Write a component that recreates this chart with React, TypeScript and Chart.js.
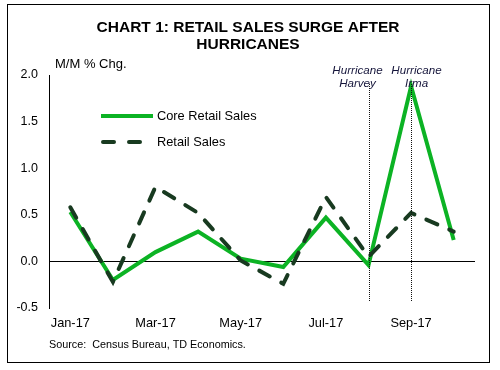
import React, { useEffect, useRef } from "react";
import { Chart, registerables } from "chart.js";

Chart.register(...registerables);

const months = ["Jan-17", "Feb-17", "Mar-17", "Apr-17", "May-17", "Jun-17", "Jul-17", "Aug-17", "Sep-17", "Oct-17"];
const coreRetailSales = [0.53, -0.2, 0.1, 0.32, 0.03, -0.06, 0.47, -0.04, 1.88, 0.23];
const retailSales = [0.58, -0.22, 0.8, 0.52, 0.01, -0.24, 0.69, 0.05, 0.52, 0.32];
const yTicks = [-0.5, 0.0, 0.5, 1.0, 1.5, 2.0];
const titleLines = ["CHART 1: RETAIL SALES SURGE AFTER", "HURRICANES"];
const yAxisTitle = "M/M % Chg.";
const sourceText = "Source:  Census Bureau, TD Economics.";
const hurricanes = [
  { month: "Aug-17", lines: ["Hurricane", "Harvey"], labelDx: -12 },
  { month: "Sep-17", lines: ["Hurricane", "Irma"], labelDx: 5 },
];

const GREEN = "#0cb324";
const DARK = "#183a20";
const FONT = "'Liberation Sans', Arial, sans-serif";

const decorPlugin = {
  id: "decor",
  beforeDraw(chart: any) {
    const ctx = chart.ctx;
    ctx.save();
    ctx.fillStyle = "#fff";
    ctx.fillRect(0, 0, chart.width, chart.height);
    ctx.strokeStyle = "#000";
    ctx.lineWidth = 1;
    ctx.strokeRect(7.5, 4.5, 482, 358);
    ctx.restore();
  },
  afterDatasetsDraw(chart: any) {
    const ctx = chart.ctx;
    const x = chart.scales.x;
    const area = chart.chartArea;
    ctx.save();
    hurricanes.forEach((h) => {
      const px = Math.round(x.getPixelForValue(months.indexOf(h.month))) + 0.5;
      ctx.strokeStyle = "#111";
      ctx.lineWidth = 1;
      ctx.setLineDash([1, 1]);
      ctx.beginPath();
      ctx.moveTo(px, area.top + 9);
      ctx.lineTo(px, area.bottom - 6);
      ctx.stroke();
      ctx.setLineDash([]);
      ctx.fillStyle = "#14143a";
      ctx.font = `italic 11.6px ${FONT}`;
      ctx.textAlign = "center";
      ctx.textBaseline = "middle";
      h.lines.forEach((t, i) => ctx.fillText(t, px + h.labelDx, 71 + i * 13));
    });
    ctx.restore();
  },
  afterDraw(chart: any) {
    const ctx = chart.ctx;
    ctx.save();
    ctx.fillStyle = "#000";
    ctx.textBaseline = "middle";
    ctx.font = `bold 15.5px ${FONT}`;
    ctx.textAlign = "center";
    titleLines.forEach((t, i) => ctx.fillText(t, 248, 28 + i * 17));
    ctx.font = `13px ${FONT}`;
    ctx.textAlign = "left";
    ctx.fillText(yAxisTitle, 55, 64);
    ctx.font = `10.8px ${FONT}`;
    ctx.fillText(sourceText, 49, 345);
    const items = [
      { label: "Core Retail Sales", color: GREEN, dash: [] as number[], y: 116 },
      { label: "Retail Sales", color: DARK, dash: [11, 15], y: 142 },
    ];
    items.forEach((it) => {
      ctx.strokeStyle = it.color;
      ctx.lineWidth = 4;
      ctx.lineCap = it.dash.length ? "round" : "butt";
      ctx.setLineDash(it.dash);
      ctx.beginPath();
      ctx.moveTo(it.dash.length ? 103 : 101, it.y);
      ctx.lineTo(153, it.y);
      ctx.stroke();
      ctx.setLineDash([]);
      ctx.fillStyle = "#000";
      ctx.font = `12.8px ${FONT}`;
      ctx.fillText(it.label, 157, it.y);
    });
    ctx.restore();
  },
};

export default function App() {
  const canvasRef = useRef<HTMLCanvasElement | null>(null);

  useEffect(() => {
    if (!canvasRef.current) return;
    const chart = new Chart(canvasRef.current, {
      type: "line",
      data: {
        labels: months,
        datasets: [
          {
            label: "Core Retail Sales",
            data: coreRetailSales,
            borderColor: GREEN,
            backgroundColor: GREEN,
            borderWidth: 4,
            pointRadius: 0,
            tension: 0,
            borderJoinStyle: "miter",
            order: 1,
          },
          {
            label: "Retail Sales",
            data: retailSales,
            borderColor: DARK,
            backgroundColor: DARK,
            borderWidth: 4,
            borderDash: [12, 13],
            borderCapStyle: "round",
            pointRadius: 0,
            tension: 0,
            order: 0,
          },
        ],
      },
      options: {
        responsive: false,
        animation: false,
        layout: { padding: { left: 8, right: 25, top: 75, bottom: 32 } },
        plugins: {
          legend: { display: false },
          title: { display: false },
          tooltip: { enabled: false },
        },
        scales: {
          x: {
            offset: true,
            grid: { display: false, drawTicks: false },
            border: { display: false },
            afterFit: (s: any) => {
              s.height = 30;
            },
            ticks: {
              autoSkip: false,
              maxRotation: 0,
              padding: 8,
              color: "#000",
              font: { family: FONT, size: 12.8 },
              callback: (v: any, i: number) => (i % 2 === 0 ? months[i] : ""),
            },
          },
          y: {
            min: -0.5,
            max: 2.0,
            afterFit: (s: any) => {
              s.width = 41;
            },
            afterBuildTicks: (s: any) => {
              s.ticks = yTicks.map((v) => ({ value: v }));
            },
            grid: {
              drawTicks: false,
              color: (c: any) => (c.tick && c.tick.value === 0 ? "#000" : "rgba(0,0,0,0)"),
              lineWidth: 1,
            },
            border: { display: true, color: "#000", width: 1 },
            ticks: {
              padding: 11,
              color: "#000",
              font: { family: FONT, size: 12.5 },
              callback: (v: any) => Number(v).toFixed(1),
            },
          },
        },
      },
      plugins: [decorPlugin],
    });
    return () => chart.destroy();
  }, []);

  return (
    <div style={{ position: "absolute", left: 0, top: 0, width: 500, height: 370 }}>
      <canvas ref={canvasRef} width={500} height={370} style={{ width: 500, height: 370 }} />
    </div>
  );
}
